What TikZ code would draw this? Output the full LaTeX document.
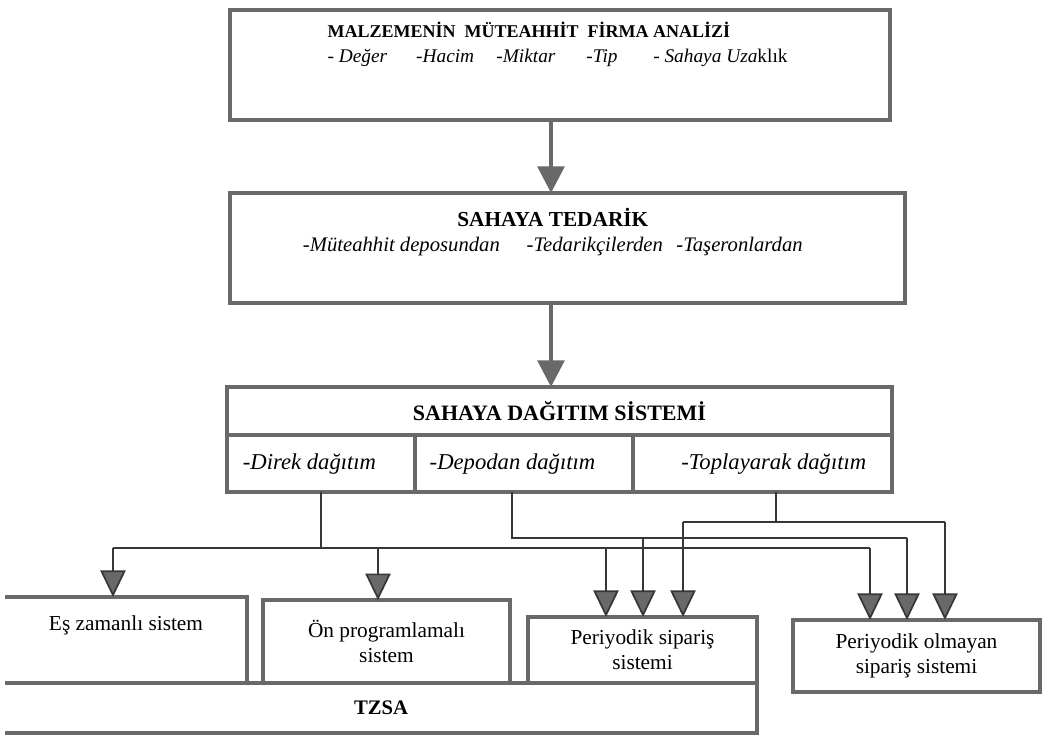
\documentclass[tikz,border=0pt]{standalone}
\usepackage{fontspec}
\setmainfont{Liberation Serif}
\usetikzlibrary{arrows.meta,positioning}

\definecolor{frame}{RGB}{105,105,105}
\definecolor{wire}{RGB}{55,55,55}

\begin{document}
\begin{tikzpicture}[x=0.75pt,y=-0.75pt,font=\fontsize{16}{19}\selectfont]
  \tikzstyle{panel}=[draw=frame,line width=3pt,inner sep=0pt,outer sep=0pt,align=center]
  \tikzstyle{bare}=[inner sep=0pt,outer sep=0pt,align=center]
  \tikzstyle{caption}=[inner sep=0pt,align=center]
  \tikzstyle{cell}=[panel,minimum height=43pt,font=\fontsize{17}{20}\selectfont\itshape]
  \tikzstyle{flow}=[draw=frame,line width=3pt,-{Triangle[width=20pt,length=20pt,fill=frame]}]
  \tikzstyle{conn}=[draw=wire,line width=1.3pt]
  \tikzstyle{drop}=[conn,-{Triangle[width=19pt,length=20pt,fill=frame]}]
  \useasboundingbox (0,0) rectangle (1043,743);

  % top boxes
  \node[panel,minimum width=495pt,minimum height=82.5pt] (analiz) at (560,65) {};
  \node[caption,align=left,anchor=north west,below right=8.5pt and 73pt of analiz.north west] (analizt)
    {{\fontsize{13.5}{17}\selectfont\textbf{MALZEMENİN\ \ MÜTEAHHİT\ \ FİRMA ANALİZİ}}\\
     {\fontsize{14.5}{17}\selectfont\textit{- Değer\hspace{1.5em}-Hacim\hspace{1.15em}-Miktar\hspace{1.6em}-Tip\hspace{1.85em}- Sahaya Uza}klık}};
  \node[panel,minimum width=506pt,minimum height=82.5pt] (tedarik) at (567.5,248) {};
  \node[caption,below=11pt of tedarik.north,xshift=-11pt] (tedarikt)
    {{\fontsize{16}{19}\selectfont\textbf{SAHAYA TEDARİK}}\\
     {\fontsize{15.5}{18}\selectfont\textit{-Müteahhit deposundan\hspace{1.3em}-Tedarikçilerden\hspace{0.65em}-Taşeronlardan}}};

  % distribution block
  \node[panel,minimum width=499pt,minimum height=36pt,font=\fontsize{16.5}{19}\selectfont\bfseries] (dagitim) at (559.5,411) {SAHAYA DAĞITIM SİSTEMİ};
  \node[cell,minimum width=141pt,anchor=north west] (direk) at (dagitim.south west) {-Direk dağıtım\hspace{1em}};
  \node[cell,minimum width=163.5pt,right=0pt of direk] (depodan) {-Depodan dağıtım\hspace{1em}};
  \node[cell,minimum width=194.5pt,right=0pt of depodan] (topla) {\hspace{1em}-Toplayarak dağıtım};

  % systems
  \node[bare,minimum width=181.5pt,minimum height=64.5pt,text depth=26pt] (es) at (126,640) {Eş zamanlı sistem};
  \node[panel,minimum width=185pt,minimum height=62pt] (on) at (386.5,641.5) {Ön programlamalı\\sistem};
  \node[panel,minimum width=172pt,minimum height=49.5pt] (per) at (642.5,650) {Periyodik sipariş\\sistemi};
  \node[panel,minimum width=185pt,minimum height=54pt] (olm) at (916.5,656) {Periyodik olmayan\\sipariş sistemi};
  \node[bare,minimum width=564pt,minimum height=37.5pt,font=\fontsize{15.5}{18}\selectfont\bfseries] (tzsa) at (381,708) {TZSA};
  \draw[draw=frame,line width=3pt] (es.north west) -- (es.north east) -- (es.south east);
  \draw[draw=frame,line width=3pt] (tzsa.north west) -- (tzsa.north east) -- (tzsa.south east) -- (tzsa.south west);

  % main flow
  \coordinate (axis) at (551,0);
  \draw[flow] (analiz.south -| axis) -- (tedarik.north -| axis);
  \draw[flow] (tedarik.south -| axis) -- (dagitim.north -| axis);

  % buses
  \coordinate (d1) at (113,548);
  \coordinate (d2) at (870,548);
  \coordinate (p1) at (512,538);
  \coordinate (p2) at (907,538);
  \coordinate (t0) at (776,522);
  \coordinate (t1) at (683,522);
  \coordinate (t2) at (945,522);
  \draw[conn] (direk.south) -- (direk.south |- d1);
  \draw[conn] (d1) -- (d2);
  \draw[conn] (p1 |- depodan.south) -- (p1) -- (p2);
  \draw[conn] (t0 |- topla.south) -- (t0);
  \draw[conn] (t1) -- (t2);

  % drops
  \draw[drop] (d1) -- (d1 |- es.north);
  \draw[drop] (378,548) -- (378,548 |- on.north);
  \foreach \x/\y in {606/548,643/538,683/522}
    \draw[drop] (\x,\y) -- (\x,\y |- per.north);
  \foreach \x/\y in {870/548,907/538,945/522}
    \draw[drop] (\x,\y) -- (\x,\y |- olm.north);
\end{tikzpicture}
\end{document}
